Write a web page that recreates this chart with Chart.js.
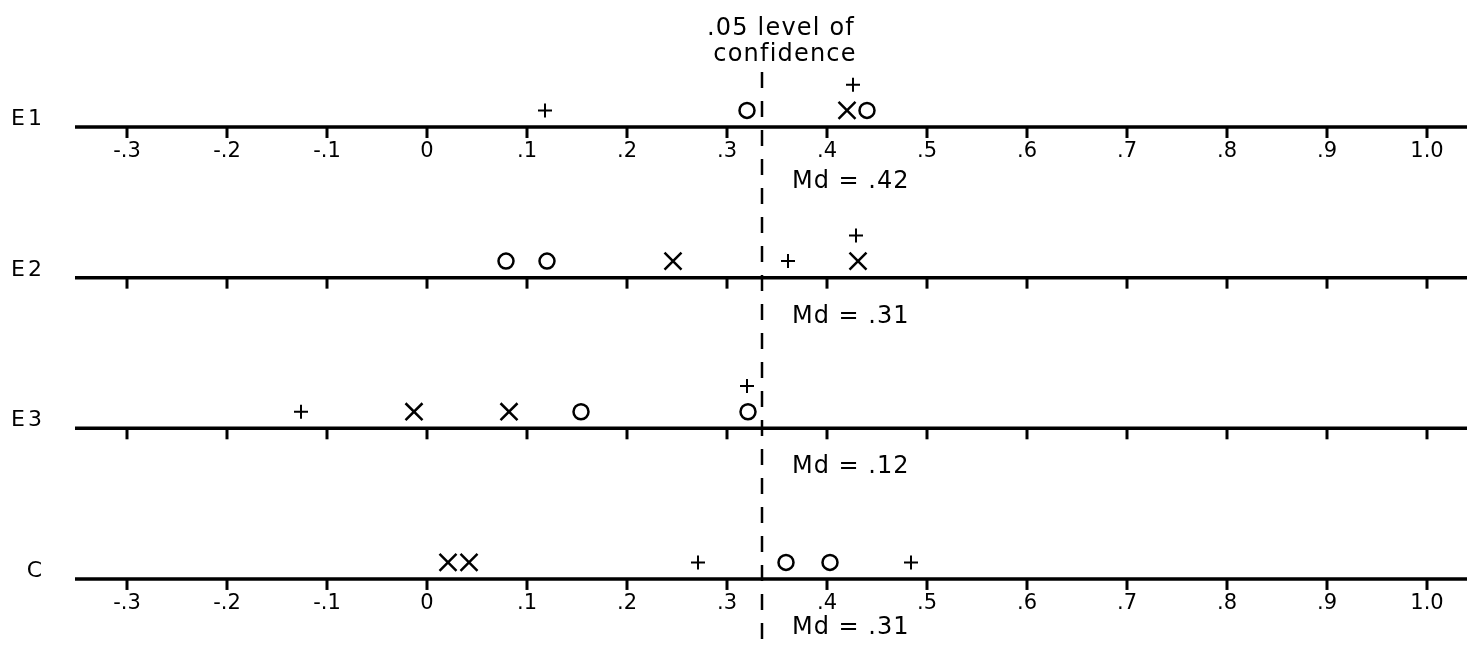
<!DOCTYPE html>
<html lang="en">
<head>
	<meta charset="UTF-8">
	<title>Md distribution</title>
	<script src="https://cdn.jsdelivr.net/npm/chart.js"></script>
	<style>
		body { margin: 0; background: #fff; }
		canvas { display: block; }
	</style>
</head>
<body>
	<canvas id="myChart" width="1467" height="646"></canvas>
	<script type="text/javascript">
		// number line range and ticks
		var xMin = -0.352, xMax = 1.040;
		var tickValues = [-0.3, -0.2, -0.1, 0, 0.1, 0.2, 0.3, 0.4, 0.5, 0.6, 0.7, 0.8, 0.9, 1.0];
		var tickLabels = ['-.3', '-.2', '-.1', '0', '.1', '.2', '.3', '.4', '.5', '.6', '.7', '.8', '.9', '1.0'];
		var labelledRows = [0, 3];

		var rowNames = ['E1', 'E2', 'E3', 'C'];
		var medians = ['.42', '.31', '.12', '.31'];
		var confidenceLevel = 0.335;

		// marks per row (upper = stacked on top of another mark)
		var plusLow = [[0.118], [0.361], [-0.126], [0.271, 0.484]];
		var plusUpper = [[0.426], [0.429], [0.32], []];
		var circles = [[0.32, 0.44], [0.079, 0.12], [0.154, 0.321], [0.359, 0.403]];
		var crosses = [[0.42], [0.246, 0.431], [-0.013, 0.082], [0.021, 0.042]];

		var lowOffset = 0.11, upperOffset = 0.28;

		function toPoints(rows, offset) {
			var pts = [];
			rows.forEach(function(vals, i) {
				vals.forEach(function(v) { pts.push({x: v, y: i - offset}); });
			});
			return pts;
		}

		var font = '"DejaVu Sans", sans-serif';

		var numberLines = {
			id: 'numberLines',
			beforeDatasetsDraw: function(chart) {
				var ctx = chart.ctx, xs = chart.scales.x, ys = chart.scales.y, area = chart.chartArea;
				var cx = xs.getPixelForValue(confidenceLevel);
				ctx.save();
				ctx.strokeStyle = '#000';
				ctx.fillStyle = '#000';
				rowNames.forEach(function(name, i) {
					var yl = ys.getPixelForValue(i);
					var labelled = labelledRows.indexOf(i) >= 0;
					ctx.lineWidth = 3.5;
					ctx.beginPath();
					ctx.moveTo(area.left, yl);
					ctx.lineTo(area.right, yl);
					ctx.stroke();
					ctx.lineWidth = 3;
					ctx.font = '21px ' + font;
					ctx.letterSpacing = '0px';
					tickValues.forEach(function(v, k) {
						var px = xs.getPixelForValue(v);
						ctx.beginPath();
						ctx.moveTo(px, yl);
						ctx.lineTo(px, yl + 11);
						ctx.stroke();
						if (labelled) {
							ctx.textAlign = 'center';
							ctx.textBaseline = 'middle';
							ctx.fillText(tickLabels[k], px, yl + 25);
						}
					});
					// row name
					ctx.font = '22px ' + font;
					ctx.textAlign = 'right';
					ctx.textBaseline = 'alphabetic';
					ctx.letterSpacing = '3px';
					ctx.fillText(name, area.left - 30, yl - 2);
					// median
					ctx.font = '24px ' + font;
					ctx.letterSpacing = '1px';
					ctx.textAlign = 'left';
					var mdBase = yl + (i === 0 ? 61 : (labelled ? 55 : 45));
					ctx.fillText('Md = ' + medians[i], cx + 30, mdBase);
				});

				// .05 level line
				ctx.lineWidth = 2.5;
				ctx.setLineDash([16, 13]);
				ctx.beginPath();
				ctx.moveTo(cx, 72);
				ctx.lineTo(cx, chart.height);
				ctx.stroke();
				ctx.setLineDash([]);
				ctx.font = '24px ' + font;
				ctx.letterSpacing = '1.2px';
				ctx.textAlign = 'center';
				ctx.textBaseline = 'alphabetic';
				ctx.fillText('.05 level of', cx + 19, 35);
				ctx.fillText('confidence', cx + 23, 61);
				ctx.restore();
			}
		};

		new Chart(document.getElementById('myChart'), {
			type: 'scatter',
			data: {
				datasets: [{
					label: 'O',
					data: toPoints(circles, lowOffset),
					pointStyle: 'circle',
					pointRadius: 7.5,
					borderWidth: 2.5,
					borderColor: '#000',
					backgroundColor: 'rgba(0,0,0,0)'
				}, {
					label: 'X',
					data: toPoints(crosses, lowOffset),
					pointStyle: 'crossRot',
					pointRadius: 12,
					borderWidth: 2.5,
					borderColor: '#000'
				}, {
					label: '+',
					data: toPoints(plusLow, lowOffset).concat(toPoints(plusUpper, upperOffset)),
					pointStyle: 'cross',
					pointRadius: 7,
					borderWidth: 2,
					borderColor: '#000'
				}]
			},
			options: {
				responsive: false,
				animation: false,
				layout: { autoPadding: false, padding: { left: 75, right: 0, top: 0, bottom: 0 } },
				plugins: { legend: { display: false }, tooltip: { enabled: false } },
				scales: {
					x: { type: 'linear', min: xMin, max: xMax, display: false },
					y: { type: 'linear', min: -0.843, max: 3.445, reverse: true, display: false }
				}
			},
			plugins: [numberLines]
		});
	</script>
</body>
</html>
